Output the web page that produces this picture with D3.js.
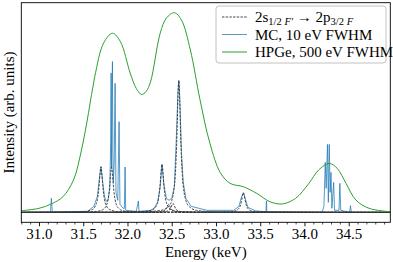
<!DOCTYPE html>
<html><head><meta charset="utf-8">
<script src="https://cdn.jsdelivr.net/npm/d3@7"></script>
<style>body{margin:0;background:#fff}svg{display:block}text{font-family:"Liberation Serif","DejaVu Serif",serif}</style>
</head><body><svg id="c" width="393" height="262"></svg>
<script>
// ---- data ----
const xDomain = [30.8, 34.97];
const yDomain = [-0.05, 1.05];
const majorTicks = [31.0, 31.5, 32.0, 32.5, 33.0, 33.5, 34.0, 34.5];
const minorTicks = [30.8,30.9,31.1,31.2,31.3,31.4,31.6,31.7,31.8,31.9,32.1,32.2,32.3,32.4,32.6,32.7,32.8,32.9,33.1,33.2,33.3,33.4,33.6,33.7,33.8,33.9,34.1,34.2,34.3,34.4,34.6,34.7,34.8,34.9];
const xLabel = "Energy (keV)";
const yLabel = "Intensity (arb. units)";

// HPGe 500 eV FWHM spectrum: energy (keV), intensity
const hpgeE = [30.80,31.00,31.14,31.27,31.39,31.48,31.56,31.63,31.73,31.83,31.92,32.03,32.10,32.16,32.21,32.26,32.37,32.44,32.53,32.61,32.71,32.82,32.93,33.05,33.16,33.31,33.46,33.61,33.75,33.90,34.05,34.16,34.28,34.37,34.47,34.58,34.73,34.97];
const hpgeI = [0.008,0.020,0.042,0.078,0.162,0.312,0.499,0.679,0.848,0.897,0.855,0.698,0.620,0.590,0.605,0.653,0.898,0.973,1.000,0.963,0.814,0.563,0.348,0.198,0.145,0.128,0.095,0.053,0.042,0.070,0.145,0.212,0.245,0.220,0.145,0.062,0.020,0.003];

// Individual 2s -> 2p lines: centre energy and sampled profile values at offsets
const lineOffsets = [-0.4,-0.2,-0.12,-0.08,-0.06,-0.04,-0.03,-0.02,-0.01,0,0.01,0.02,0.03,0.04,0.06,0.08,0.12,0.2,0.4];
const lineCentres = [31.70, 31.82, 32.39, 32.465, 32.515, 32.58, 33.31];
const lineValues = [
  [0.001,0.003,0.010,0.020,0.034,0.064,0.093,0.139,0.197,0.228,0.197,0.139,0.093,0.064,0.034,0.020,0.010,0.003,0.001],
  [0.001,0.003,0.009,0.020,0.033,0.063,0.092,0.137,0.194,0.225,0.194,0.137,0.092,0.063,0.033,0.020,0.009,0.003,0.001],
  [0.001,0.004,0.010,0.021,0.036,0.067,0.098,0.146,0.207,0.240,0.207,0.146,0.098,0.067,0.036,0.021,0.010,0.004,0.001],
  [0.000,0.001,0.002,0.004,0.006,0.011,0.016,0.024,0.034,0.040,0.034,0.024,0.016,0.011,0.006,0.004,0.002,0.001,0.000],
  [0.000,0.001,0.002,0.004,0.007,0.013,0.018,0.027,0.039,0.045,0.039,0.027,0.018,0.013,0.007,0.004,0.002,0.001,0.000],
  [0.003,0.010,0.028,0.059,0.098,0.185,0.271,0.403,0.569,0.660,0.569,0.403,0.271,0.185,0.098,0.059,0.028,0.010,0.003],
  [0.000,0.001,0.004,0.009,0.015,0.027,0.040,0.060,0.084,0.098,0.084,0.060,0.040,0.027,0.015,0.009,0.004,0.001,0.000]
];

// MC, 10 eV FWHM spectrum: energy (keV), intensity
const mcE = [30.80,31.13,31.14,31.15,31.55,31.62,31.66,31.68,31.70,31.72,31.74,31.76,31.78,31.80,31.81,31.815,31.82,31.825,31.83,31.835,31.84,31.85,31.86,31.87,31.89,31.905,31.915,31.95,31.965,31.973,31.98,32.10,32.123,32.13,32.26,32.30,32.34,32.37,32.39,32.41,32.44,32.47,32.50,32.53,32.55,32.57,32.58,32.59,32.61,32.63,32.66,32.72,32.90,33.20,33.26,33.29,33.31,33.33,33.36,33.45,33.565,33.57,33.575,34.20,34.22,34.235,34.245,34.26,34.27,34.28,34.29,34.30,34.31,34.33,34.34,34.39,34.40,34.41,34.51,34.52,34.53,34.97];
const mcI = [0.000,0.002,0.070,0.002,0.005,0.030,0.080,0.160,0.228,0.150,0.080,0.055,0.060,0.120,0.350,0.698,0.220,0.600,0.755,0.300,0.150,0.250,0.646,0.100,0.060,0.454,0.040,0.020,0.020,0.227,0.010,0.005,0.057,0.005,0.010,0.020,0.050,0.130,0.240,0.140,0.070,0.060,0.070,0.130,0.350,0.600,0.660,0.580,0.300,0.150,0.070,0.030,0.010,0.010,0.030,0.080,0.098,0.070,0.025,0.007,0.003,0.056,0.003,0.000,0.030,0.250,0.120,0.340,0.050,0.340,0.100,0.200,0.020,0.150,0.010,0.010,0.145,0.010,0.000,0.033,0.000,0.000];

const legendLabels = ["MC, 10 eV FWHM", "HPGe, 500 eV FWHM"];

// ---- drawing ----
const svg = d3.select("#c");
const L = 21.3, R = 390.3, T = 2.7, B = 222.3;
const x = d3.scaleLinear().domain(xDomain).range([L, R]);
const y = d3.scaleLinear().domain(yDomain).range([B, T]);

svg.append("defs").append("clipPath").attr("id","clip")
  .append("rect").attr("x",L).attr("y",T).attr("width",R-L).attr("height",B-T);
const g = svg.append("g").attr("clip-path","url(#clip)");

const lineLin = d3.line().x(d=>x(d[0])).y(d=>y(d[1]));
const lineMono = d3.line().x(d=>x(d[0])).y(d=>y(d[1])).curve(d3.curveMonotoneX);

// MC
const mcData = mcE.map((e,i)=>[e, mcI[i]]);
g.append("path").datum(mcData).attr("d", lineLin)
  .attr("fill","none").attr("stroke","#1f77b4").attr("stroke-opacity",0.75).attr("stroke-width",1);

// individual lines (dashed)
lineCentres.forEach((c, k) => {
  const pts = [[xDomain[0], 0]].concat(lineOffsets.map((o,i)=>[c+o, lineValues[k][i]])).concat([[xDomain[1], 0]]);
  g.append("path").datum(pts).attr("d", lineMono)
    .attr("fill","none").attr("stroke","#333").attr("stroke-width",0.9)
    .attr("stroke-dasharray","2.4,1.3").attr("stroke-dashoffset", k*0.9);
});

// HPGe
const hpData = hpgeE.map((e,i)=>[e, hpgeI[i]]);
g.append("path").datum(hpData).attr("d", d3.line().x(d=>x(d[0])).y(d=>y(d[1])).curve(d3.curveCatmullRom.alpha(0.5)))
  .attr("fill","none").attr("stroke","#2ca02c").attr("stroke-width",1);

// frame
svg.append("rect").attr("x",L).attr("y",T).attr("width",R-L).attr("height",B-T)
  .attr("fill","none").attr("stroke","#000").attr("stroke-width",0.9);

// x axis
const ax = svg.append("g").attr("transform",`translate(0,${B})`);
ax.call(d3.axisBottom(x).tickValues(majorTicks).tickFormat(d3.format(".1f")).tickSize(4).tickPadding(2));
ax.select(".domain").remove();
ax.selectAll("text").attr("font-size",15).attr("font-family","Liberation Serif");
ax.selectAll("line").attr("stroke-width",0.9);
const axm = svg.append("g").attr("transform",`translate(0,${B})`);
axm.call(d3.axisBottom(x).tickValues(minorTicks).tickFormat("").tickSize(2.2));
axm.select(".domain").remove();
axm.selectAll("line").attr("stroke-width",0.7);

svg.append("text").attr("x",(L+R)/2).attr("y",257).attr("text-anchor","middle")
  .attr("font-size",15).text(xLabel);
svg.append("text").attr("transform",`translate(14,${(T+B)/2}) rotate(-90)`).attr("text-anchor","middle")
  .attr("font-size",15).text(yLabel);

// legend
const lg = svg.append("g");
lg.append("rect").attr("x",216).attr("y",6).attr("width",170).attr("height",57).attr("rx",3)
  .attr("fill","#fff").attr("fill-opacity",0.85).attr("stroke","#bbb").attr("stroke-width",0.9);
const rows = [17, 34.5, 52];
lg.append("line").attr("x1",222).attr("x2",247).attr("y1",rows[0]).attr("y2",rows[0])
  .attr("stroke","#333").attr("stroke-width",0.9).attr("stroke-dasharray","2.4,1.3");
lg.append("line").attr("x1",222).attr("x2",247).attr("y1",rows[1]).attr("y2",rows[1])
  .attr("stroke","#1f77b4").attr("stroke-opacity",0.75).attr("stroke-width",1);
lg.append("line").attr("x1",222).attr("x2",247).attr("y1",rows[2]).attr("y2",rows[2])
  .attr("stroke","#2ca02c").attr("stroke-width",1);
const t0 = lg.append("text").attr("x",255).attr("y",rows[0]+5).attr("font-size",15);
t0.append("tspan").text("2s");
t0.append("tspan").attr("font-size",10.5).attr("dy",3).text("1/2 ");
t0.append("tspan").attr("font-size",10.5).attr("font-style","italic").text("F′");
t0.append("tspan").attr("dy",-3).text(" → 2p");
t0.append("tspan").attr("font-size",10.5).attr("dy",3).text("3/2 ");
t0.append("tspan").attr("font-size",10.5).attr("font-style","italic").text("F");
legendLabels.forEach((s,i)=>{
  lg.append("text").attr("x",255).attr("y",rows[i+1]+5).attr("font-size",15).text(s);
});
</script></body></html>
